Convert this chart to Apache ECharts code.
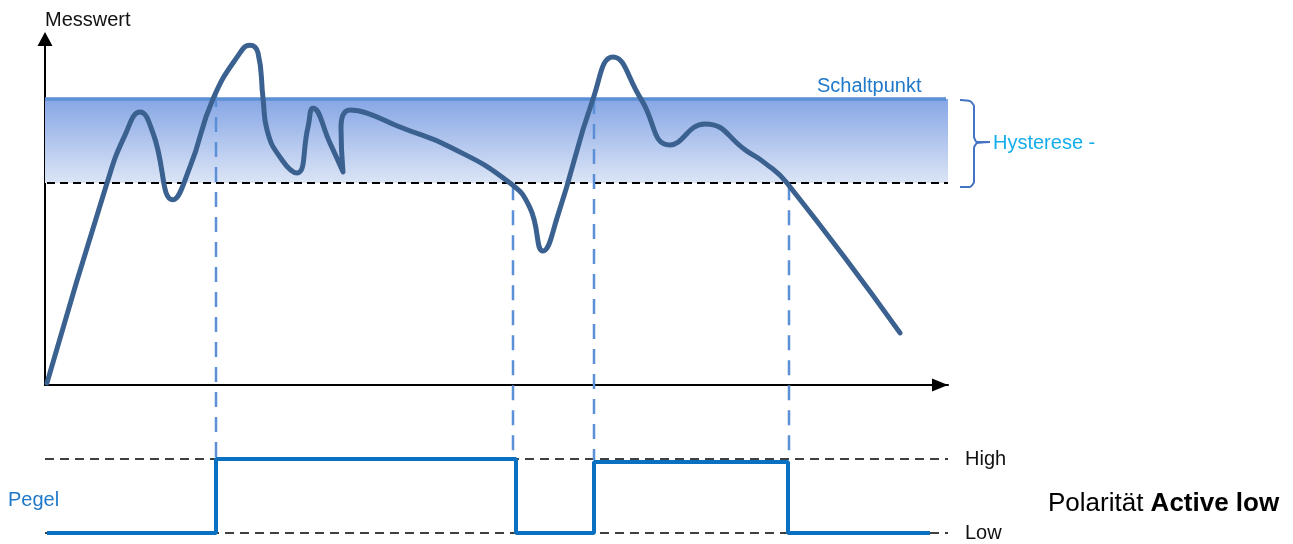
<!DOCTYPE html>
<html><head><meta charset="utf-8">
<script src="https://cdn.jsdelivr.net/npm/echarts@6/dist/echarts.min.js"></script>
<style>html,body{margin:0;padding:0;background:#fff}#c{width:1293px;height:544px}</style>
</head><body><div id="c"></div>
<script>
// Messwert curve: [time, value]
const curve = [
  [2,0.6],[62,57.7],[80,71.4],[95,78.0],[108,72.0],[128,52.9],[145,62.3],[168,81.7],
  [195,94.9],[205,97.1],[213,94.9],[218,82.0],[222,72.9],[237,64.3],[252,60.6],[263,73.7],
  [268,79.1],[285,69.1],[298,60.9],[296,73.4],[305,78.6],[322,77.7],[355,73.7],[405,68.0],
  [465,57.7],[485,50.6],[498,38.3],[513,48.6],[548,81.7],[568,93.7],[596,81.7],[625,68.6],
  [660,74.6],[703,66.6],[720,63.4],[742,57.7],[855,14.9]
];
const switchPoint = 81.7;     // Schaltpunkt
const hysteresisLow = 57.7;   // Schaltpunkt - Hysterese
const switchTimes = [171, 468, 549, 744];
const guideTops = [83.7, 57.1, 81.7, 57.1];
const guideBottom = -21.4;
// Pegel signal: [time, level] (0 = Low, 1 = High)
const pegel = [[2,0],[171,0],[171,1],[471,1],[471,0],[549,0],[549,0.96],[743,0.96],[743,0],[885,0]];
const levelLabels = ['Low', 'High'];
// Hysterese brace outline: [time, value]
const brace = [[915,81.4],[925,81.1],[929,79.7],[929,70.9],[932,69.4],[945,69.4],[932,69.1],[929,67.7],[929,58.0],[925,56.6],[915,56.6]];

const FONT = '"Liberation Sans", Arial, sans-serif';
const chart = echarts.init(document.getElementById('c'), null, {renderer: 'canvas'});

const guideSeries = switchTimes.map((t, i) => ({
  type: 'line', xAxisIndex: 0, yAxisIndex: 0, clip: false, symbol: 'none', silent: true, z: 3,
  data: [[t, guideTops[i]], [t, guideBottom]],
  lineStyle: {color: '#5B8FD6', width: 2.5, type: [15, 10]}
}));

chart.setOption({
  animation: false,
  grid: [
    {left: 45, top: 35, width: 903, height: 350},
    {left: 45, top: 459, width: 903, height: 74},
    {left: 45, top: 35, width: 960, height: 350}
  ],
  xAxis: [
    {gridIndex: 0, type: 'value', min: 0, max: 903,
     axisLine: {show: true, symbol: ['none', 'triangle'], symbolSize: [13, 16], symbolOffset: [0, -8],
                lineStyle: {color: '#000', width: 2}},
     axisTick: {show: false}, axisLabel: {show: false}, splitLine: {show: false}},
    {gridIndex: 1, type: 'value', min: 0, max: 903, show: false},
    {gridIndex: 2, type: 'value', min: 0, max: 960, show: false}
  ],
  yAxis: [
    {gridIndex: 0, type: 'value', min: 0, max: 100,
     name: 'Messwert', nameLocation: 'end', nameGap: 15,
     nameTextStyle: {align: 'left', verticalAlign: 'middle', fontSize: 20, color: '#111', fontFamily: FONT},
     axisLine: {show: true, symbol: ['none', 'triangle'], symbolSize: [15, 14], symbolOffset: [0, -4],
                lineStyle: {color: '#000', width: 2}},
     axisTick: {show: false}, axisLabel: {show: false}, splitLine: {show: false}},
    {gridIndex: 1, type: 'value', min: 0, max: 1, interval: 1, position: 'right',
     axisLine: {show: false}, axisTick: {show: false},
     axisLabel: {margin: 17, fontSize: 20, color: '#111', fontFamily: FONT,
                 formatter: v => levelLabels[v]},
     splitLine: {show: true, lineStyle: {color: '#000', width: 1.5, type: [9, 6]}}},
    {gridIndex: 2, type: 'value', min: 0, max: 100, show: false}
  ],
  series: [
    {type: 'line', name: 'Schaltpunkt', xAxisIndex: 0, yAxisIndex: 0, clip: false, symbol: 'none', z: 2,
     data: [[0, switchPoint], [901, switchPoint]],
     lineStyle: {color: '#5B8FD6', width: 3.5},
     markArea: {silent: true, z: 1,
       itemStyle: {color: new echarts.graphic.LinearGradient(0, 0, 0, 1, [
         {offset: 0, color: '#86A6E5'}, {offset: 1, color: '#DCE5F6'}])},
       data: [[{xAxis: 0, yAxis: switchPoint}, {xAxis: 903, yAxis: hysteresisLow}]]}},
    {type: 'line', name: 'Hysterese', xAxisIndex: 0, yAxisIndex: 0, clip: false, symbol: 'none', z: 2,
     data: [[2, hysteresisLow], [903, hysteresisLow]],
     lineStyle: {color: '#000', width: 2, type: [8, 5]}},
    ...guideSeries,
    {type: 'line', name: 'Messwert', xAxisIndex: 0, yAxisIndex: 0, clip: false, symbol: 'none', z: 5,
     smooth: 0.5, data: curve,
     lineStyle: {color: '#3A6190', width: 5, cap: 'round', join: 'round'}},
    {type: 'line', name: 'Klammer', xAxisIndex: 2, yAxisIndex: 2, clip: false, symbol: 'none', z: 4,
     data: brace, smooth: 0.2,
     lineStyle: {color: '#4472C4', width: 2}},
    {type: 'line', name: 'Pegel', xAxisIndex: 1, yAxisIndex: 1, clip: false, symbol: 'none', z: 5,
     data: pegel, lineStyle: {color: '#0A70C2', width: 4}}
  ],
  graphic: [
    {type: 'text', x: 817, y: 86, style: {text: 'Schaltpunkt', fill: '#1F78C8', font: '20px ' + FONT, verticalAlign: 'middle'}},
    {type: 'text', x: 993, y: 143, style: {text: 'Hysterese -', fill: '#12AEEB', font: '20px ' + FONT, verticalAlign: 'middle'}},
    {type: 'text', x: 8, y: 500, style: {text: 'Pegel', fill: '#1F78C8', font: '20px ' + FONT, verticalAlign: 'middle'}},
    {type: 'text', x: 1048, y: 504, style: {
      text: '{a|Polarität }{b|Active low}', verticalAlign: 'middle',
      rich: {a: {fontSize: 26, fontFamily: FONT, color: '#111'},
             b: {fontSize: 26, fontFamily: FONT, fontWeight: 'bold', color: '#111'}}}}
  ]
});
</script></body></html>
